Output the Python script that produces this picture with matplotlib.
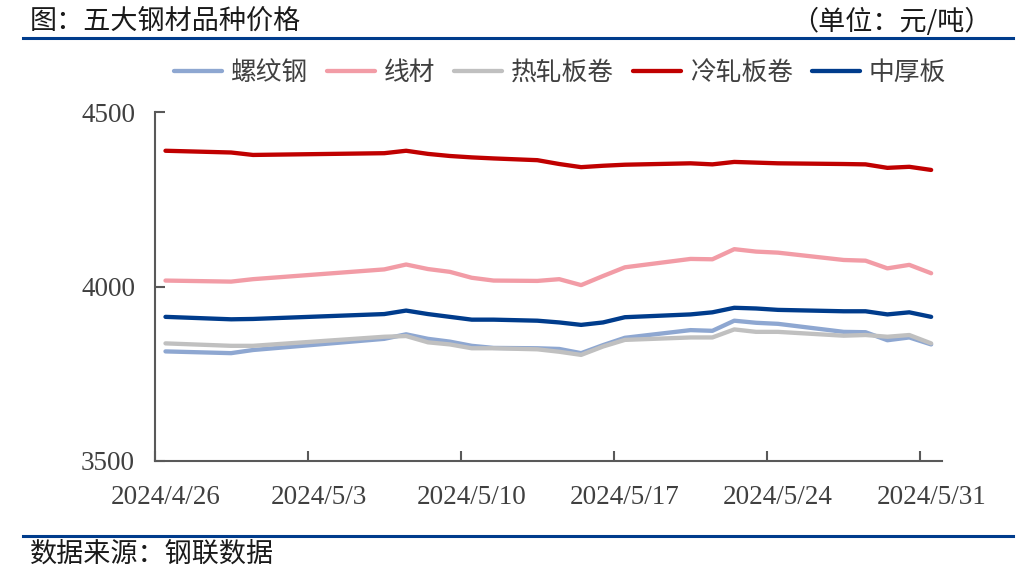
import matplotlib
matplotlib.use("Agg")
import matplotlib.pyplot as plt
from matplotlib.lines import Line2D
import datetime as dt

plt.rcParams['font.family'] = ['Noto Sans CJK SC', 'DejaVu Sans']

# trading dates (days after 2024/4/26)
dates = ["2024-04-26", "2024-04-29", "2024-04-30", "2024-05-06", "2024-05-07", "2024-05-08",
         "2024-05-09", "2024-05-10", "2024-05-11", "2024-05-13", "2024-05-14", "2024-05-15",
         "2024-05-16", "2024-05-17", "2024-05-20", "2024-05-21", "2024-05-22", "2024-05-23",
         "2024-05-24", "2024-05-27", "2024-05-28", "2024-05-29", "2024-05-30", "2024-05-31"]

rebar = [3814, 3809, 3818, 3850, 3863, 3850, 3842, 3830, 3824, 3823, 3821, 3809,
         3832, 3853, 3875, 3873, 3902, 3896, 3893, 3870, 3869, 3846, 3854, 3834]
wire = [4017, 4014, 4021, 4049, 4063, 4050, 4042, 4025, 4017, 4016, 4021, 4004,
        4030, 4055, 4079, 4078, 4107, 4100, 4097, 4076, 4074, 4052, 4062, 4038]
hot_coil = [3837, 3830, 3830, 3856, 3858, 3840, 3834, 3823, 3823, 3820, 3813, 3804,
            3828, 3847, 3854, 3854, 3877, 3870, 3870, 3859, 3861, 3856, 3861, 3837]
cold_coil = [4389, 4384, 4377, 4382, 4389, 4380, 4374, 4370, 4367, 4362, 4351, 4342,
             4346, 4349, 4353, 4350, 4357, 4355, 4353, 4351, 4350, 4340, 4343, 4334]
plate = [3913, 3906, 3907, 3921, 3931, 3921, 3913, 3905, 3905, 3902, 3897, 3890,
         3897, 3912, 3920, 3926, 3939, 3937, 3933, 3929, 3929, 3920, 3926, 3913]

series_names = ["螺纹钢", "线材", "热轧板卷", "冷轧板卷", "中厚板"]
series_colors = ["#8EA7D1", "#F29CA6", "#C0C0C0", "#C00000", "#003C8C"]

tick_dates = ["2024-04-26", "2024-05-03", "2024-05-10", "2024-05-17", "2024-05-24", "2024-05-31"]
tick_labels = ["2024/4/26", "2024/5/3", "2024/5/10", "2024/5/17", "2024/5/24", "2024/5/31"]
y_ticks = [3500, 4000, 4500]

base = dt.date(2024, 4, 26)
def day_num(s):
    return (dt.date.fromisoformat(s) - base).days

x = [day_num(d) + 0.5 for d in dates]

fig = plt.figure(figsize=(10.33, 5.73), dpi=100)
ax = fig.add_axes([0.1496, 0.1955, 0.912 - 0.1496, 0.8045 - 0.1955])

for vals, name, col in zip([rebar, wire, hot_coil, cold_coil, plate], series_names, series_colors):
    ax.plot(x, vals, color=col, lw=3.1, label=name, solid_capstyle='round', solid_joinstyle='round')

ax.set_xlim(0, 36)
ax.set_ylim(3500, 4500)

ax.set_xticks([day_num(d) for d in tick_dates])
ax.set_xticklabels([])
ax.set_xticks([day_num(d) + 0.5 for d in tick_dates], minor=True)
ax.set_xticklabels(tick_labels, minor=True, family='Liberation Serif', fontsize=19.5, color='#404040')
ax.tick_params(axis='x', which='major', direction='in', length=7.5, width=1.5, color='#595959')
ax.tick_params(axis='x', which='minor', length=0, pad=17)

ax.set_yticks(y_ticks)
ax.set_yticklabels([str(v) for v in y_ticks], family='Liberation Serif', fontsize=19.5, color='#404040')
ax.tick_params(axis='y', direction='in', length=7.5, width=1.5, color='#595959', pad=14)

for side in ['top', 'right']:
    ax.spines[side].set_visible(False)
for side in ['left', 'bottom']:
    ax.spines[side].set_color('#595959')
    ax.spines[side].set_linewidth(1.5)

leg = ax.legend(loc='center', bbox_to_anchor=(560 / 1033, 1 - 73 / 573), bbox_transform=fig.transFigure,
                ncol=5, frameon=False, handlelength=1.85, handletextpad=0.35, columnspacing=0.75,
                prop={'family': ['Noto Sans CJK SC'], 'size': 18.5})
for t in leg.get_texts():
    t.set_color('#404040')

fig.text(30 / 1033, 1 - 22 / 573, "图：五大钢材品种价格", fontsize=19.5, va='center', ha='left', color='#1a1a1a')
fig.text(992 / 1033, 1 - 22 / 573, "（单位：元/吨）", fontsize=19.5, va='center', ha='right', color='#1a1a1a')
fig.text(30 / 1033, 1 - 554 / 573, "数据来源：钢联数据", fontsize=19.5, va='center', ha='left', color='#1a1a1a')

fig.add_artist(Line2D([23 / 1033, 1013 / 1033], [1 - 38 / 573, 1 - 38 / 573], color='#003C8C', lw=2.2,
                      transform=fig.transFigure))
fig.add_artist(Line2D([23 / 1033, 1013 / 1033], [1 - 536 / 573, 1 - 536 / 573], color='#003C8C', lw=2.2,
                      transform=fig.transFigure))

fig.savefig("out.png", dpi=100)
